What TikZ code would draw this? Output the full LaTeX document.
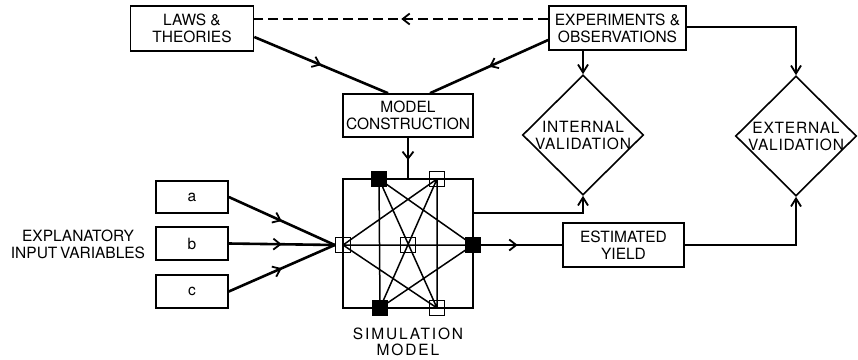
\documentclass[tikz,border=0pt]{standalone}
\usepackage{fontspec}
\setmainfont{TeX Gyre Heros}
\usetikzlibrary{arrows.meta,decorations.markings,shapes.geometric}
\begin{document}
\begin{tikzpicture}[x=1pt,y=-1pt,
  lbl/.style={font=\fontsize{15.5}{17}\selectfont, align=center},
  box/.style={draw, line width=1.6pt, inner sep=0pt, lbl},
  conn/.style={line width=2.6pt},
  thinl/.style={line width=1.5pt},
  tip/.style={-{Straight Barb[length=8pt,width=10pt,line width=1.8pt]}},
  midarrow/.style={postaction={decorate}, decoration={markings, mark=at position #1 with {\arrow{Straight Barb[length=7pt,width=11pt,line width=1.8pt]}}}},
  valdiamond/.style={diamond, draw, line width=1.6pt, inner sep=0pt, minimum width=121pt, minimum height=120pt},
  opensq/.style={draw, line width=1.5pt, minimum size=15pt, inner sep=0pt},
  fullsq/.style={draw, fill=black, line width=1.5pt, minimum size=15pt, inner sep=0pt}
]
\useasboundingbox (0,0) rectangle (858,359);

% boxes
\node[box, minimum width=123pt, minimum height=45pt] (laws) at (192,28.5) {LAWS \&\\THEORIES};
\node[box, minimum width=137pt, minimum height=44pt] (exp) at (617.5,28) {EXPERIMENTS \&\\OBSERVATIONS};
\node[box, minimum width=130pt, minimum height=43pt] (model) at (408,115.5) {MODEL\\CONSTRUCTION};
\node[box, minimum width=121pt, minimum height=44pt] (yield) at (623.5,245) {ESTIMATED\\YIELD};

\node[box, minimum width=72pt, minimum height=32pt] (a) at (192,197) {a};
\node[box, minimum width=72pt, minimum height=33pt] (b) at (192,243.5) {b};
\node[box, minimum width=72pt, minimum height=33pt] (c) at (192,291.5) {c};
\node[lbl] (expl) at (78,244) {EXPLANATORY\\INPUT\,VARIABLES};

% diamonds
\node[valdiamond] (iv) at (583,135) {};
\node[lbl, font=\fontsize{15.5}{17}\selectfont\addfontfeatures{LetterSpace=5}] (ivt) at (iv) {INTERNAL\\VALIDATION};
\node[valdiamond] (ev) at (796,136) {};
\node[lbl, font=\fontsize{15.5}{17}\selectfont\addfontfeatures{LetterSpace=5}] (evt) at (ev) {EXTERNAL\\VALIDATION};

% simulation model
\node[draw, line width=1.6pt, minimum width=130pt, minimum height=129pt, inner sep=0pt] (sim) at (408,243.5) {};
\coordinate (TLc) at (379,179);
\coordinate (TRc) at (437,179);
\coordinate (Lc) at (343,245);
\coordinate (Cc) at (408,245);
\coordinate (Rc) at (473,245);
\coordinate (BLc) at (380,308);
\coordinate (BRc) at (437,308);
\draw[thinl] (Lc) -- (TRc) (Lc) -- (BRc) (Rc) -- (TLc) (Rc) -- (BLc)
  (TLc) -- (BRc) (TRc) -- (BLc) (TLc) -- (BLc) (TRc) -- (BRc) (Lc) -- (Rc);
\node[fullsq] (TL) at (TLc) {};
\node[opensq] (TR) at (TRc) {};
\node[opensq] (L) at (Lc) {};
\node[opensq] (C) at (Cc) {};
\node[fullsq] (R) at (Rc) {};
\node[fullsq] (BL) at (BLc) {};
\node[opensq] (BR) at (BRc) {};
\node[lbl, font=\fontsize{15.5}{16.5}\selectfont\addfontfeatures{LetterSpace=12}] (simt) at (408,342) {SIMULATION\\MODEL};

% connectors
\draw[line width=2.2pt, dash pattern=on 10pt off 5pt, midarrow=0.5] ([yshift=9pt]exp.west) -- ([yshift=9pt]exp.west -| laws.east);
\draw[conn, midarrow=0.5] ([yshift=-8.5pt]laws.east) -- ([xshift=-20pt]model.north);
\draw[conn, midarrow=0.5] ([yshift=-12pt]exp.west) -- ([xshift=22pt]model.north);
\draw[conn, tip] (iv.north |- exp.south) -- (iv.north);
\draw[conn, tip] ([yshift=1pt]exp.east) -| (ev.north);
\draw[conn, midarrow=0.55] (model.south) -- (sim.north);
\draw[conn, tip] ([yshift=30.5pt]sim.east) -| (iv.south);
\draw[conn, midarrow=0.45] (R.east) -- (yield.west);
\draw[conn, tip] (yield.east) -| (ev.south);
\draw[conn, midarrow=0.5] (a.east) -- (L.west);
\draw[conn, midarrow=0.5] (b.east) -- (L.west);
\draw[conn, midarrow=0.5] (c.east) -- (L.west);
\end{tikzpicture}
\end{document}
